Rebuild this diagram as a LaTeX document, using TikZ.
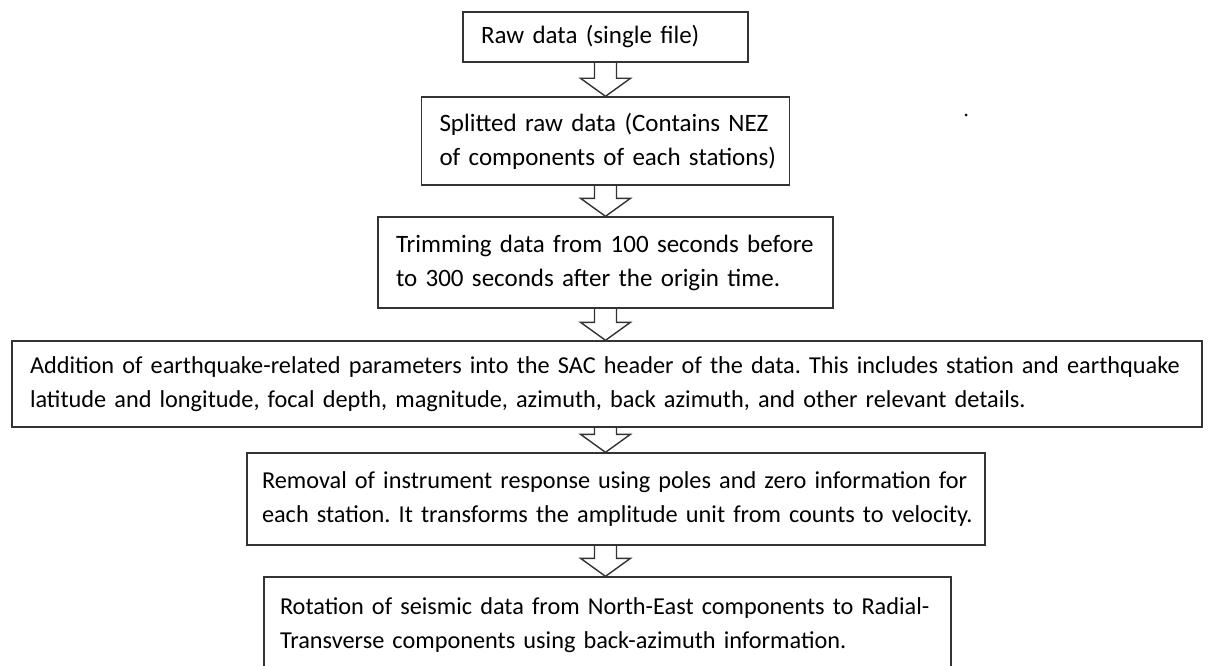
\documentclass[tikz,border=0pt]{standalone}
\usepackage{fontspec}
\setmainfont{Carlito}
\usetikzlibrary{positioning,calc}
\frenchspacing

\begin{document}
\begin{tikzpicture}[x=1pt,y=-1pt,line width=1.4pt,
                    stage/.style={draw=black!80,rectangle,align=left,inner xsep=18pt,
                                  inner ysep=0pt,font=\fontsize{25}{34}\selectfont},
                    widestage/.style={stage,font=\fontsize{24.3}{34}\selectfont},
                    blockarrow/.style={draw=black!80,line join=miter}]

\useasboundingbox (0,0) rectangle (1210,666);
\clip (0,0) rectangle (1210,666);

\node[stage,text width=249pt,minimum height=50pt](A) at (605.5,37) {Raw data (single file)};
\node[stage,text width=332pt,minimum height=88pt](B) [below=33.6pt of A]
     {\mbox{Splitted raw data (Contains NEZ}\\\mbox{of components of each stations)}};
\node[stage,text width=419pt,minimum height=91pt](C) [below=30.6pt of B]
     {\mbox{Trimming data from 100 seconds before}\\\mbox{to 300 seconds after the origin time.}};
\node[widestage,text width=1154pt,minimum height=86pt](D) [below=31.6pt of C,xshift=1.5pt]
     {\mbox{Addition of earthquake-related parameters into the SAC header of the data. This includes station and earthquake}\\
      \mbox{latitude and longitude, focal depth, magnitude, azimuth, back azimuth, and other relevant details.}};
\node[widestage,text width=708pt,minimum height=92pt,inner xsep=15pt](E) [below=24.6pt of D,xshift=9pt]
     {\mbox{Removal of instrument response using poles and zero information for}\\
      \mbox{each station. It transforms the amplitude unit from counts to velocity.}};
\node[widestage,text width=655pt,minimum height=96pt,inner xsep=16pt](F) [below=30.6pt of E,xshift=-8.5pt]
     {\mbox{Rotation of seismic data from North-East components to Radial-}\\
      \mbox{Transverse components using back-azimuth information.}};

\node[circle,fill=black,inner sep=0pt,minimum size=3pt](dot) at (966,115) {};

% hollow block arrows down the middle
\foreach \a/\b in {A/B,B/C,C/D,D/E,E/F}
  \draw[blockarrow] ($(A.south |- \a.south)+(-11,0)$) |- ($(A.south |- \b.north)+(-25,-18)$)
    -- (A.south |- \b.north) -- ($(A.south |- \b.north)+(25,-18)$) -| ($(A.south |- \a.south)+(11,0)$);
\end{tikzpicture}
\end{document}
